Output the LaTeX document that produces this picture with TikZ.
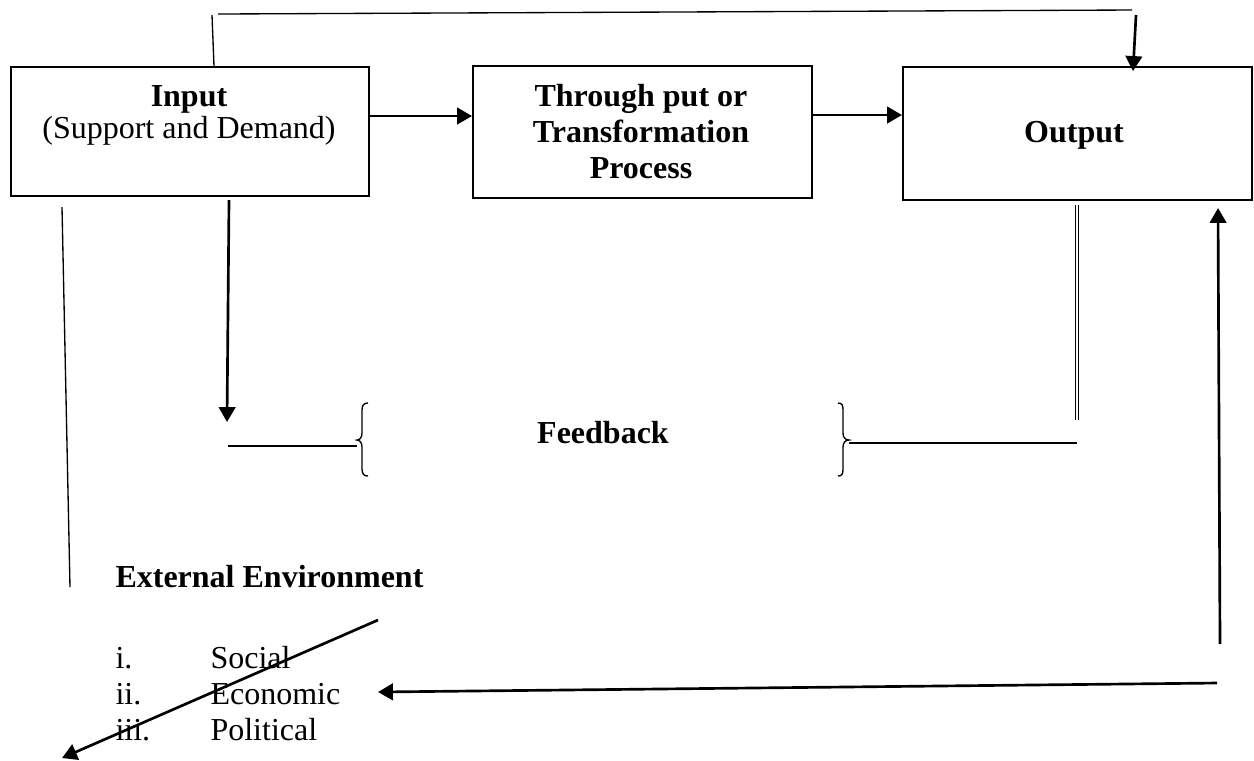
\documentclass[tikz,border=0pt]{standalone}
\usepackage{fontspec}
\setmainfont{Liberation Serif}
\usetikzlibrary{arrows.meta}
\begin{document}
\begin{tikzpicture}[x=0.375pt,y=-0.375pt,
  box/.style={draw,line width=0.75pt,inner sep=0pt,anchor=north west},
  txt/.style={inner sep=0pt,anchor=base,font=\fontsize{12}{14}\selectfont},
  btxt/.style={txt,font=\fontsize{12}{14}\selectfont\bfseries},
  arr/.style={line width=1pt,-{Triangle[length=5.6pt,width=6.2pt]}},
  thinln/.style={line width=0.5pt},
  dbl/.style={double,line width=0.4pt,double distance=0.7pt}]
\useasboundingbox (0,0) rectangle (1254,760);

% boxes
\node[box,minimum width=134.25pt,minimum height=48.375pt] (in) at (10,66) {};
\node[box,minimum width=127.125pt,minimum height=49.5pt] (thr) at (472,65) {};
\node[box,minimum width=130.875pt,minimum height=49.875pt] (out) at (902,66) {};

% box texts
\node[btxt] (inT) at (189,106) {Input};
\node[txt] (inS) at (189,138) {(Support and Demand)};
\node[btxt] (thT1) at (641,106) {Through put or};
\node[btxt] (thT2) at (641,142) {Transformation};
\node[btxt] (thT3) at (641,178) {Process};
\node[btxt] (outT) at (1074,142) {Output};

% other texts
\node[btxt] (fb) at (603,443) {Feedback};
\node[btxt,anchor=base west] (ext) at (115,587) {External Environment};
\node[txt,anchor=base west] (n1) at (115,668) {i.};
\node[txt,anchor=base west] (n2) at (115,704) {ii.};
\node[txt,anchor=base west] (n3) at (115,740) {iii.};
\node[txt,anchor=base west] (s1) at (210,668) {Social};
\node[txt,anchor=base west] (s2) at (210,704) {Economic};
\node[txt,anchor=base west] (s3) at (210,740) {Political};

% main flow arrows
\draw[arr] (in.east |- 0,116) -- (thr.west |- 0,116);
\draw[arr] (thr.east |- 0,115) -- (out.west |- 0,115);

% top connector
\coordinate (tA) at (212,15);
\coordinate (tB) at (218,14);
\coordinate (tC) at (1132,10);
\coordinate (tD) at (1136,15);
\coordinate (tE) at (1133,71);
\draw[thinln] (214,0 |- in.north) -- (tA);
\draw[thinln] (tB) -- (tC);
\draw[arr] (tD) -- (tE);

% input down arrow and left feedback line
\coordinate (dA) at (229,200);
\coordinate (dB) at (227,422);
\draw[arr] (dA) -- (dB);
\coordinate (fL1) at (228,446);
\coordinate (lbr) at (357,446);
\draw[thinln] (fL1) -- (lbr);

% braces
\draw[thinln] (368,403) .. controls (364,403) and (362,405) .. (362,410) -- (362,433)
  .. controls (362,437) and (360,440) .. (357,440)
  .. controls (360,440) and (362,443) .. (362,447) -- (362,469)
  .. controls (362,474) and (364,476) .. (368,476);
\draw[thinln] (838,403) .. controls (842,403) and (843,405) .. (843,410) -- (843,433)
  .. controls (843,437) and (845,440) .. (849,440)
  .. controls (845,440) and (843,443) .. (843,447) -- (843,469)
  .. controls (843,474) and (842,476) .. (838,476);

% right feedback line and double line from output
\coordinate (rbr) at (849,443);
\coordinate (fR1) at (1077,443);
\draw[thinln] (rbr) -- (fR1);
\coordinate (oA) at (1077,205);
\coordinate (oB) at (1077,420);
\draw[dbl] (oA) -- (oB);

% environment loop
\coordinate (eA) at (1220,644);
\coordinate (eB) at (1218,208);
\draw[arr] (eA) -- (eB);
\coordinate (eC) at (1217,683);
\coordinate (eD) at (378,692);
\draw[arr] (eC) -- (eD);
\coordinate (eE) at (378,620);
\coordinate (eF) at (62,758);
\draw[arr] (eE) -- (eF);
\coordinate (lA) at (62,207);
\coordinate (lB) at (70,587);
\draw[thinln] (lA) -- (lB);
\end{tikzpicture}
\end{document}
